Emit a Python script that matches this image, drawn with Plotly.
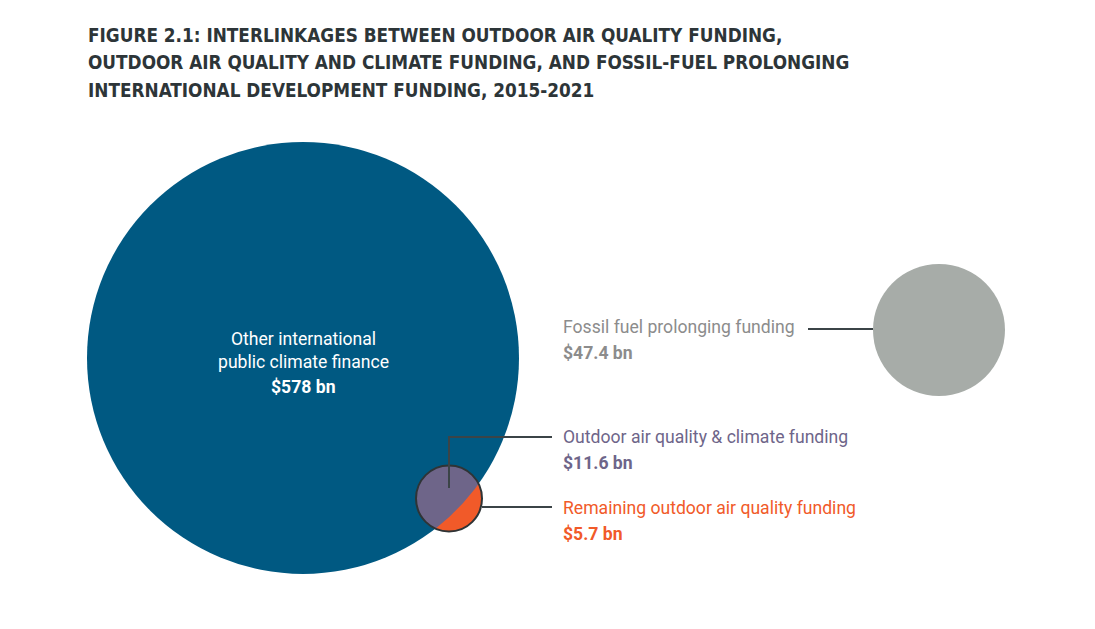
import numpy as np
import plotly.graph_objects as go

# ---- data ----
categories = ["Other international<br>public climate finance",
              "Fossil fuel prolonging funding",
              "Outdoor air quality & climate funding",
              "Remaining outdoor air quality funding"]
values_bn = [578, 47.4, 11.6, 5.7]
title_lines = ["FIGURE 2.1: INTERLINKAGES BETWEEN OUTDOOR AIR QUALITY FUNDING,",
               "OUTDOOR AIR QUALITY AND CLIMATE FUNDING, AND FOSSIL-FUEL PROLONGING",
               "INTERNATIONAL DEVELOPMENT FUNDING, 2015-2021"]

# ---- layout constants (pixel space) ----
W, H = 1095, 629
big_c, big_r = (303.0, 358.0), 216.0
gray_c, gray_r = (939.0, 330.0), 66.0
small_c, small_r = (449.0, 498.5), 33.0

BLUE = "#005982"
GRAY = "#a7aca8"
PURPLE = "#6e6589"
ORANGE = "#f15a29"
LINE = "#3b4447"
TITLE = "#2d3538"
GRAYTXT = "#8c8c8c"

def fmt(v):
    return f"${v:g} bn"

fig = go.Figure()

def circle(c, r, fill, line_color=None, lw=0, layer="below"):
    return dict(type="circle", xref="x", yref="y", x0=c[0]-r, x1=c[0]+r,
                y0=c[1]-r, y1=c[1]+r, fillcolor=fill,
                line=dict(color=line_color or fill, width=lw), layer=layer)

shapes = [circle(big_c, big_r, BLUE), circle(gray_c, gray_r, GRAY),
          circle(small_c, small_r, PURPLE)]

# orange region: small circle outside big circle
C1 = np.array(big_c); C2 = np.array(small_c)
d = np.linalg.norm(C2 - C1)
u = (C2 - C1) / d
a = (big_r**2 - small_r**2 + d**2) / (2 * d)
h = np.sqrt(big_r**2 - a**2)
theta0 = np.arctan2(u[1], u[0])
beta = np.arctan2(h, a - d)
gamma = np.arctan2(h, a)
t1 = np.linspace(theta0 - beta, theta0 + beta, 120)
arc1 = C2[:, None] + small_r * np.vstack([np.cos(t1), np.sin(t1)])
t2 = np.linspace(theta0 + gamma, theta0 - gamma, 60)
arc2 = C1[:, None] + big_r * np.vstack([np.cos(t2), np.sin(t2)])
px = np.concatenate([arc1[0], arc2[0]])
py = np.concatenate([arc1[1], arc2[1]])
fig.add_trace(go.Scatter(x=px, y=py, fill="toself", fillcolor=ORANGE,
                         mode="lines", line=dict(width=0, color=ORANGE),
                         hoverinfo="skip", showlegend=False))

# outline of small circle
shapes.append(circle(small_c, small_r, "rgba(0,0,0,0)", "#2f3436", 2, "above"))

# leader lines
lw = 2
shapes.append(dict(type="line", xref="x", yref="y", x0=808, x1=gray_c[0]-gray_r,
                   y0=329, y1=329, line=dict(color=LINE, width=lw), layer="above"))
shapes.append(dict(type="path", xref="x", yref="y",
                   path=f"M {small_c[0]},488 L {small_c[0]},437 L 552,437",
                   line=dict(color=LINE, width=lw), layer="above"))
shapes.append(dict(type="line", xref="x", yref="y", x0=small_c[0]+small_r, x1=552,
                   y0=507, y1=507, line=dict(color=LINE, width=lw), layer="above"))

ann = []
for i, t in enumerate(title_lines):
    ann.append(dict(x=86, y=35 + i * 27.5, text=f"<b>{t}</b>", showarrow=False,
                    xanchor="left", yanchor="middle",
                    font=dict(family="DejaVu Sans Condensed, DejaVu Sans", size=18.8,
                              color=TITLE)))

BODY = "Roboto"
BS = 17.6
ann.append(dict(x=big_c[0], y=350, text=categories[0], showarrow=False,
                xanchor="center", yanchor="middle",
                font=dict(family=BODY, size=BS, color="white")))
ann.append(dict(x=big_c[0], y=387, text=f"<b>{fmt(values_bn[0])}</b>", showarrow=False,
                xanchor="center", yanchor="middle",
                font=dict(family=BODY, size=BS, color="white")))

rows = [(categories[1], values_bn[1], 327, GRAYTXT),
        (categories[2], values_bn[2], 437, PURPLE),
        (categories[3], values_bn[3], 508, ORANGE)]
for name, v, y, col in rows:
    ann.append(dict(x=561, y=y, text=name, showarrow=False, xanchor="left",
                    yanchor="middle", font=dict(family=BODY, size=BS, color=col)))
    ann.append(dict(x=561, y=y + 26, text=f"<b>{fmt(v)}</b>", showarrow=False,
                    xanchor="left", yanchor="middle",
                    font=dict(family=BODY, size=BS, color=col)))

fig.update_layout(width=W, height=H, margin=dict(l=0, r=0, t=0, b=0),
                  paper_bgcolor="white", plot_bgcolor="white",
                  shapes=shapes, annotations=ann, showlegend=False,
                  xaxis=dict(range=[0, W], visible=False, fixedrange=True),
                  yaxis=dict(range=[H, 0], visible=False, fixedrange=True))
fig.write_html("out.html")
